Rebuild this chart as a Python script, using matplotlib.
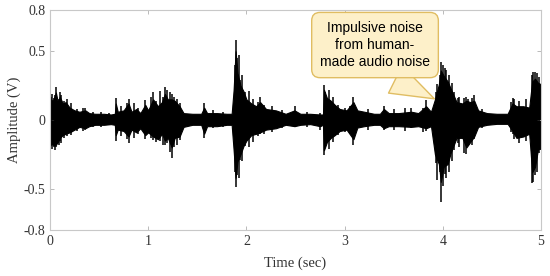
import matplotlib
matplotlib.use("Agg")
import matplotlib.pyplot as plt

t_env = [0.00, 0.03, 0.06, 0.08, 0.10, 0.13, 0.16, 0.20, 0.25, 0.30, 0.36, 0.40,
         0.46, 0.55, 0.62, 0.66, 0.67, 0.69, 0.75, 0.80, 0.83, 0.88, 0.92, 0.97,
         1.00, 1.05, 1.10, 1.14, 1.17, 1.20, 1.24, 1.27, 1.32, 1.36, 1.45, 1.54,
         1.57, 1.60, 1.70, 1.80, 1.85, 1.87, 1.89, 1.91, 1.94, 1.97, 2.00, 2.05,
         2.10, 2.14, 2.20, 2.30, 2.40, 2.49, 2.55, 2.65, 2.75, 2.78, 2.79, 2.82,
         2.86, 2.90, 2.95, 3.02, 3.09, 3.13, 3.20, 3.30, 3.36, 3.40, 3.45, 3.55,
         3.68, 3.75, 3.83, 3.88, 3.92, 3.96, 3.98, 4.01, 4.05, 4.08, 4.14, 4.20,
         4.24, 4.28, 4.32, 4.36, 4.45, 4.55, 4.66, 4.71, 4.75, 4.82, 4.88, 4.91,
         4.94, 4.97, 5.00]
env_hi = [0.15, 0.14, 0.20, 0.13, 0.17, 0.12, 0.13, 0.09, 0.07, 0.06, 0.07, 0.05,
          0.045, 0.045, 0.04, 0.045, 0.12, 0.06, 0.07, 0.12, 0.06, 0.08, 0.05, 0.11,
          0.07, 0.15, 0.10, 0.13, 0.19, 0.15, 0.15, 0.14, 0.10, 0.05, 0.045, 0.045,
          0.09, 0.05, 0.05, 0.045, 0.045, 0.22, 0.50, 0.34, 0.25, 0.21, 0.15, 0.12,
          0.10, 0.13, 0.08, 0.07, 0.045, 0.07, 0.045, 0.045, 0.04, 0.04, 0.22, 0.16,
          0.14, 0.11, 0.08, 0.07, 0.13, 0.07, 0.06, 0.045, 0.045, 0.08, 0.05, 0.05,
          0.06, 0.05, 0.10, 0.06, 0.15, 0.26, 0.36, 0.32, 0.28, 0.23, 0.13, 0.12,
          0.14, 0.13, 0.14, 0.07, 0.05, 0.045, 0.045, 0.12, 0.10, 0.10, 0.09, 0.28,
          0.30, 0.27, 0.26]
env_lo = [-0.17, -0.18, -0.18, -0.16, -0.13, -0.11, -0.10, -0.09, -0.07, -0.05, -0.06, -0.045,
          -0.035, -0.035, -0.03, -0.035, -0.11, -0.07, -0.08, -0.12, -0.07, -0.09, -0.06, -0.11,
          -0.09, -0.12, -0.14, -0.10, -0.15, -0.13, -0.20, -0.13, -0.12, -0.05, -0.035, -0.035,
          -0.10, -0.045, -0.045, -0.035, -0.035, -0.22, -0.42, -0.30, -0.25, -0.19, -0.15, -0.11,
          -0.10, -0.09, -0.07, -0.06, -0.035, -0.045, -0.035, -0.03, -0.045, -0.035, -0.22, -0.16,
          -0.13, -0.11, -0.08, -0.07, -0.14, -0.055, -0.045, -0.035, -0.035, -0.06, -0.045, -0.045,
          -0.05, -0.045, -0.06, -0.045, -0.25, -0.32, -0.45, -0.34, -0.32, -0.24, -0.13, -0.13,
          -0.20, -0.16, -0.12, -0.05, -0.035, -0.028, -0.028, -0.08, -0.13, -0.12, -0.10, -0.38,
          -0.34, -0.21, -0.21]

# narrow impulses sticking out of the envelope
spike_t = [0.01, 0.02, 0.04, 0.05, 0.06, 0.09, 0.10, 0.11, 0.14, 0.17, 0.21, 0.27,
           0.34, 0.36, 0.44, 0.52, 0.60, 0.67, 0.72, 0.78, 0.80, 0.86, 0.90, 0.97,
           1.03, 1.05, 1.08, 1.12, 1.15, 1.17, 1.19, 1.22, 1.24, 1.26, 1.29, 1.32,
           1.57, 1.66, 1.76, 1.88, 1.89, 1.90, 1.92, 1.94, 1.96, 1.99, 2.03, 2.07,
           2.12, 2.14, 2.18, 2.26, 2.36, 2.49, 2.62, 2.75, 2.79, 2.80, 2.84, 2.88,
           2.93, 3.00, 3.06, 3.09, 3.24, 3.40, 3.50, 3.62, 3.68, 3.80, 3.83, 3.93,
           3.94, 3.97, 3.98, 4.00, 4.02, 4.03, 4.06, 4.09, 4.11, 4.15, 4.17, 4.22,
           4.24, 4.26, 4.30, 4.32, 4.40, 4.69, 4.71, 4.73, 4.78, 4.85, 4.91, 4.92,
           4.94, 4.96, 4.98]
spike_hi = [0.17, 0.19, 0.16, 0.18, 0.24, 0.15, 0.20, 0.18, 0.14, 0.15, 0.12, 0.08,
            0.09, 0.09, 0.06, 0.06, 0.05, 0.16, 0.10, 0.12, 0.155, 0.12, 0.09, 0.145,
            0.17, 0.20, 0.14, 0.21, 0.17, 0.24, 0.22, 0.20, 0.19, 0.17, 0.15, 0.12,
            0.12, 0.07, 0.06, 0.40, 0.58, 0.45, 0.47, 0.29, 0.33, 0.20, 0.21, 0.15,
            0.13, 0.17, 0.11, 0.10, 0.07, 0.10, 0.06, 0.05, 0.255, 0.20, 0.22, 0.17,
            0.11, 0.09, 0.10, 0.17, 0.08, 0.10, 0.08, 0.09, 0.09, 0.09, 0.145, 0.20,
            0.26, 0.33, 0.42, 0.40, 0.38, 0.36, 0.33, 0.27, 0.20, 0.16, 0.17, 0.16,
            0.17, 0.15, 0.16, 0.18, 0.08, 0.13, 0.16, 0.15, 0.14, 0.15, 0.33, 0.35,
            0.35, 0.34, 0.31]
spike_lo = [-0.19, -0.21, -0.20, -0.22, -0.20, -0.18, -0.15, -0.17, -0.13, -0.12, -0.11, -0.08,
            -0.08, -0.07, -0.05, -0.05, -0.04, -0.15, -0.12, -0.14, -0.165, -0.13, -0.10, -0.14,
            -0.13, -0.145, -0.16, -0.15, -0.18, -0.18, -0.17, -0.23, -0.28, -0.20, -0.18, -0.145,
            -0.13, -0.06, -0.05, -0.38, -0.49, -0.40, -0.42, -0.29, -0.30, -0.19, -0.20, -0.16,
            -0.12, -0.10, -0.10, -0.09, -0.06, -0.05, -0.05, -0.07, -0.255, -0.20, -0.21, -0.16,
            -0.11, -0.09, -0.10, -0.18, -0.07, -0.07, -0.07, -0.08, -0.06, -0.09, -0.08, -0.31,
            -0.44, -0.38, -0.60, -0.48, -0.39, -0.42, -0.38, -0.30, -0.22, -0.17, -0.20, -0.24,
            -0.25, -0.19, -0.18, -0.14, -0.06, -0.09, -0.10, -0.14, -0.17, -0.15, -0.46, -0.45,
            -0.40, -0.38, -0.24]

plt.rcParams['font.family'] = ['Liberation Serif', 'DejaVu Serif']

fig = plt.figure(figsize=(5.5, 2.76), dpi=100)
ax = fig.add_axes([0.0909, 0.1667, 0.8927, 0.7971])

ax.fill_between(t_env, env_lo, env_hi, color='black', lw=0.8, edgecolor='black')
ax.vlines(spike_t, spike_lo, spike_hi, color='black', lw=1.1)

ax.set_xlim(0, 5)
ax.set_ylim(-0.8, 0.8)
ax.set_xticks([0, 1, 2, 3, 4, 5])
ax.set_yticks([-0.8, -0.5, 0, 0.5, 0.8])
ax.set_yticklabels(['-0.8', '-0.5', '0', '0.5', '0.8'])
ax.tick_params(direction='in', length=3, width=0.6, color='#b0b0b0',
               labelcolor='#333333', labelsize=10, top=True, right=True)
for s in ax.spines.values():
    s.set_color('#c8c8c8')
    s.set_linewidth(0.8)

ax.set_xlabel('Time (sec)', fontsize=10.5, color='#333333', labelpad=6)
ax.set_ylabel('Amplitude (V)', fontsize=10.5, color='#333333', labelpad=2)

ax.annotate('Impulsive noise\nfrom human-\nmade audio noise',
            xy=(3.94, 0.145), xytext=(3.31, 0.545),
            ha='center', va='center', multialignment='center', linespacing=1.3,
            fontsize=10, family=['Liberation Sans', 'DejaVu Sans'], color='black',
            bbox=dict(boxstyle='round,pad=0.6,rounding_size=0.6',
                      fc='#fdf0c9', ec='#e0bd62', lw=1.0),
            arrowprops=dict(arrowstyle='wedge,tail_width=2.2,shrink_factor=0.5',
                            fc='#fdf0c9', ec='#e0bd62', lw=1.0,
                            relpos=(0.5, 0.0)))

fig.savefig('out.png', dpi=100)
